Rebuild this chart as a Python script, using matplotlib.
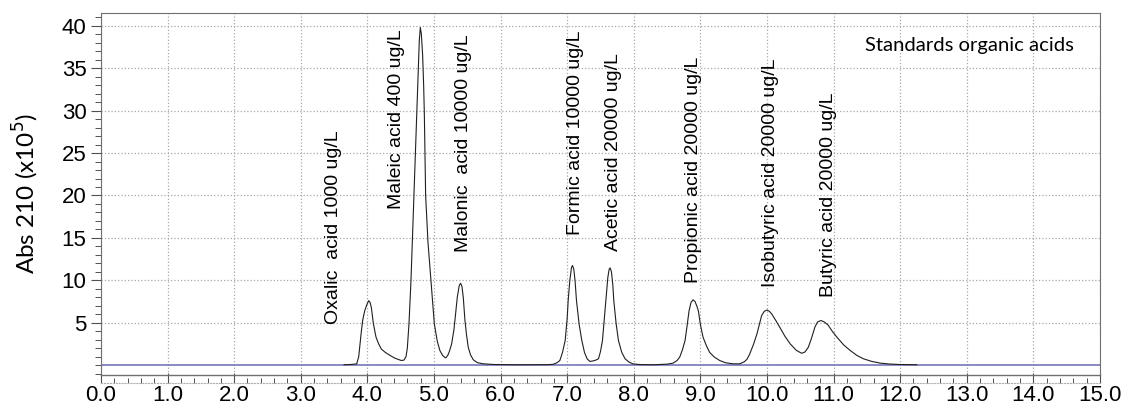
import numpy as np
import matplotlib.pyplot as plt
from matplotlib.ticker import MultipleLocator, FormatStrFormatter

# chromatogram trace (retention time in min, Abs x1e5)
trace_x = [3.65, 3.75, 3.84, 3.87, 3.89, 3.91, 3.93, 3.96, 3.99, 4.02, 4.04, 4.06,
           4.09, 4.13, 4.17, 4.21, 4.27, 4.34, 4.42, 4.51, 4.55, 4.58, 4.60, 4.625,
           4.655, 4.70, 4.74, 4.765, 4.78, 4.795, 4.81, 4.83, 4.845, 4.855, 4.865,
           4.875, 4.91, 4.955, 5.005, 5.05, 5.09, 5.13, 5.165, 5.18, 5.21, 5.235, 5.265,
           5.30, 5.315, 5.35, 5.38, 5.40, 5.42, 5.44, 5.465, 5.49, 5.515, 5.55,
           5.59, 5.65, 5.74, 5.9, 6.2, 6.5, 6.7, 6.79, 6.85, 6.89, 6.93, 6.97,
           7.00, 7.015, 7.04, 7.065, 7.08, 7.10, 7.12, 7.14, 7.18, 7.22, 7.26,
           7.30, 7.34, 7.39, 7.43, 7.47, 7.50, 7.53, 7.555, 7.58, 7.61, 7.63,
           7.645, 7.665, 7.685, 7.70, 7.735, 7.77, 7.82, 7.87, 7.93, 7.99, 8.1,
           8.3, 8.39, 8.5, 8.59, 8.65, 8.69, 8.73, 8.77, 8.80, 8.83, 8.86, 8.89,
           8.92, 8.95, 8.97, 9.00, 9.04, 9.09, 9.14, 9.21, 9.29, 9.38, 9.49, 9.59,
           9.66, 9.70, 9.74, 9.80, 9.85, 9.89, 9.92, 9.96, 10.0, 10.035, 10.07,
           10.13, 10.19, 10.27, 10.35, 10.44, 10.52, 10.57, 10.62, 10.67, 10.72,
           10.76, 10.81, 10.86, 10.92, 10.98, 11.05, 11.15, 11.25, 11.35, 11.45,
           11.57, 11.70, 11.85, 12.0, 12.25]
trace_y = [0.05, 0.08, 0.15, 1.0, 2.5, 4.0, 5.3, 6.4, 7.1, 7.6, 7.4, 6.8,
           4.9, 3.3, 2.5, 1.9, 1.5, 1.15, 0.8, 0.55, 0.6, 1.0, 2.0, 4.9,
           10.0, 20.3, 29.8, 34.9, 38.3, 39.8, 39.1, 36.5, 33.0, 29.8, 25.0,
           20.0, 14.5, 10.0, 4.9, 2.8, 1.7, 1.15, 0.9, 0.87, 1.2, 1.7, 2.5,
           4.2, 5.3, 8.0, 9.4, 9.65, 9.3, 8.0, 5.3, 3.5, 2.1, 1.2,
           0.64, 0.3, 0.16, 0.08, 0.05, 0.05, 0.06, 0.1, 0.3, 0.55, 1.5, 2.9,
           5.5, 7.6, 10.0, 11.5, 11.75, 11.3, 9.8, 7.6, 4.8, 2.9, 1.5,
           0.75, 0.44, 0.5, 0.6, 0.75, 1.6, 2.9, 5.2, 7.6, 10.3, 11.3,
           11.47, 11.0, 9.5, 7.6, 4.9, 2.9, 1.5, 0.75, 0.35, 0.15, 0.07,
           0.05, 0.08, 0.12, 0.24, 0.55, 0.95, 1.8, 2.9, 4.6, 6.4, 7.4, 7.7,
           7.5, 6.9, 6.4, 4.8, 3.3, 2.3, 1.5, 0.95, 0.55, 0.28, 0.16, 0.16,
           0.4, 0.7, 1.3, 2.5, 3.7, 4.9, 5.85, 6.35, 6.5, 6.35, 6.05,
           5.3, 4.5, 3.4, 2.5, 1.75, 1.4, 1.55, 2.1, 3.2, 4.5,
           5.1, 5.26, 5.1, 4.7, 4.0, 3.3, 2.4, 1.73, 1.15, 0.75,
           0.45, 0.24, 0.13, 0.08, 0.05]

# peak labels: text, x (centre), y (bottom of text)
peak_labels = ["Oxalic  acid 1000 ug/L", "Maleic acid 400 ug/L", "Malonic  acid 10000 ug/L",
               "Formic acid 10000 ug/L", "Acetic acid 20000 ug/L", "Propionic acid 20000 ug/L",
               "Isobutyric acid 20000 ug/L", "Butyric acid 20000 ug/L"]
label_x = [3.49, 4.44, 5.44, 7.12, 7.69, 8.90, 10.06, 10.92]
label_y = [4.9, 18.4, 13.3, 15.3, 13.5, 9.7, 9.2, 8.0]

fig = plt.figure(figsize=(11.23, 4.08), dpi=100)
ax = fig.add_axes([0.0899, 0.0821, 0.8896, 0.8859])

ax.axhline(0, color='#8080c0', lw=1.3, zorder=2)
ax.plot(trace_x, trace_y, color='#202020', lw=0.8, zorder=3)

for t, x, y in zip(peak_labels, label_x, label_y):
    ax.text(x, y, t, rotation=90, ha='center', va='bottom', fontsize=14,
            family='Liberation Sans', color='black')

ax.text(0.869, 0.911, "Standards organic acids", transform=ax.transAxes,
        ha='center', va='center', fontsize=14.6, family='Lato')

ax.set_xlim(0, 15)
ax.set_ylim(-1.1, 41.5)
ax.xaxis.set_major_locator(MultipleLocator(1))
ax.xaxis.set_minor_locator(MultipleLocator(0.2))
ax.xaxis.set_major_formatter(FormatStrFormatter('%.1f'))
ax.set_yticks(np.arange(5, 41, 5))
ax.yaxis.set_minor_locator(MultipleLocator(1))

ax.grid(True, which='major', color='#a8a8a8', ls=':', lw=0.9)

for s in ['top', 'right', 'left']:
    ax.spines[s].set_color('#707070')
ax.spines['bottom'].set_position(('outward', 6))
ax.spines['bottom'].set_color('#b0b0b0')
ax.spines['bottom'].set_linestyle(':')
# box bottom edge
ax.plot([0, 1], [0, 0], transform=ax.transAxes, color='#707070', lw=1.0, clip_on=False)

ax.tick_params(axis='x', which='major', direction='in', length=7, width=0.8,
               color='#505050', labelsize=16, pad=1.8)
ax.tick_params(axis='x', which='minor', direction='in', length=3.5, width=0.7, color='#505050')
ax.tick_params(axis='y', which='major', direction='out', length=7.5, width=0.8,
               color='#505050', labelsize=16, pad=3)
ax.tick_params(axis='y', which='minor', direction='out', length=4.5, width=0.7, color='#505050')
for lab in ax.get_xticklabels() + ax.get_yticklabels():
    lab.set_family('Liberation Sans')

ax.set_ylabel('Abs 210 (x10$^5$)', fontsize=17.5, family='Lato', labelpad=15)

fig.savefig('out.png', dpi=100)
